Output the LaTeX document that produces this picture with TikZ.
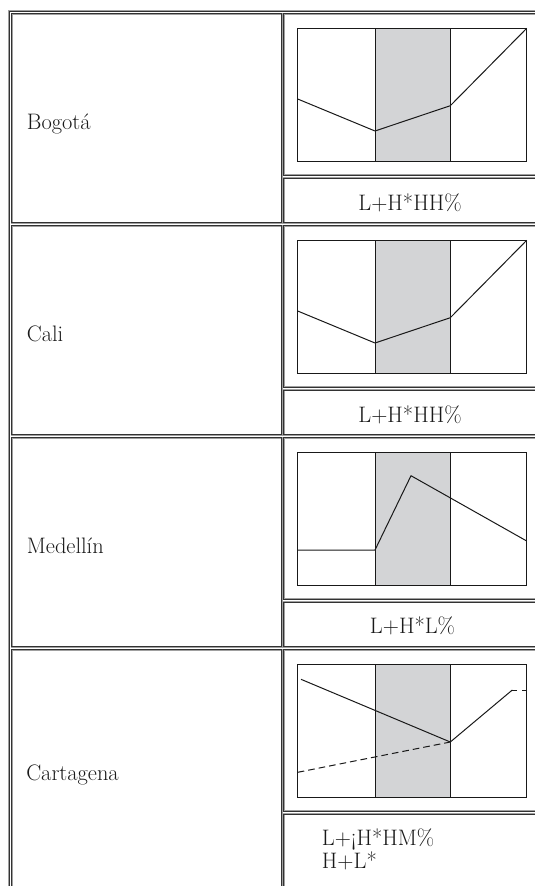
\documentclass[tikz,border=0pt]{standalone}
\usepackage{tikz}

\definecolor{bandgrey}{RGB}{211,212,214}
\definecolor{rulegrey}{RGB}{160,160,160}
\definecolor{ruledark}{RGB}{50,50,50}

\tikzset{
  cellbox/.style={draw=ruledark, line width=0.55pt, preaction={draw=rulegrey, line width=1.5pt}},
  plotbox/.style={draw=black!90, line width=0.75pt},
  contour/.style={draw=black!90, line width=0.75pt, line join=round},
  dashcontour/.style={contour, dash pattern=on 5pt off 3pt},
  citytext/.style={inner sep=0pt, anchor=base west, text=black!90, font=\fontsize{16.8}{19}\selectfont},
  tonetext/.style={inner sep=0pt, anchor=base, text=black!90, font=\fontsize{16.8}{19}\selectfont},
}

\begin{document}
\begin{tikzpicture}[x=0.75pt, y=-0.75pt]
            \useasboundingbox (0,0) rectangle (535,886);
            \clip (0,0) rectangle (535,886);
            % table frame and cells
            \draw[cellbox] (9.3,11.3) rectangle (570,920);
            \draw[cellbox] (11.5,13.5) rectangle (281.5,222.8);
            \draw[cellbox] (11.5,225.5) rectangle (281.5,434.8);
            \draw[cellbox] (11.5,437.5) rectangle (281.5,646.8);
            \draw[cellbox] (11.5,649.5) rectangle (281.5,910);
            \draw[cellbox] (283.5,13.5) rectangle (560,175.2);
            \draw[cellbox] (283.5,178.3) rectangle (560,222.8);
            \draw[cellbox] (283.5,225.5) rectangle (560,387.2);
            \draw[cellbox] (283.5,390.3) rectangle (560,434.8);
            \draw[cellbox] (283.5,437.5) rectangle (560,599.2);
            \draw[cellbox] (283.5,602.3) rectangle (560,646.8);
            \draw[cellbox] (283.5,649.5) rectangle (560,811.2);
            \draw[cellbox] (283.5,814.3) rectangle (560,910);
            % Bogota
            \fill[bandgrey] (375.0,28.3) rectangle (450.3,161.7);
            \draw[plotbox] (297.7,28.3) rectangle (526.7,161.7);
            \draw[plotbox] (375.0,28.3) -- (375.0,161.7);
            \draw[plotbox] (450.3,28.3) -- (450.3,161.7);
            \draw[contour] (297.7,99.0) -- (375.0,131.0) -- (450.3,105.7) -- (526.7,28.3);
            % Cali
            \fill[bandgrey] (375.0,240.3) rectangle (450.3,373.7);
            \draw[plotbox] (297.7,240.3) rectangle (526.7,373.7);
            \draw[plotbox] (375.0,240.3) -- (375.0,373.7);
            \draw[plotbox] (450.3,240.3) -- (450.3,373.7);
            \draw[contour] (297.7,311.0) -- (375.0,343.0) -- (450.3,317.7) -- (526.7,240.3);
            % Medellin
            \fill[bandgrey] (375.0,452.5) rectangle (450.3,585.7);
            \draw[plotbox] (297.7,452.5) rectangle (526.7,585.7);
            \draw[plotbox] (375.0,452.5) -- (375.0,585.7);
            \draw[plotbox] (450.3,452.5) -- (450.3,585.7);
            \draw[contour] (297.7,550.0) -- (375.0,550.0) -- (411.0,475.7) -- (526.7,541.0);
            % Cartagena
            \fill[bandgrey] (375.0,664.3) rectangle (450.3,797.7);
            \draw[plotbox] (297.7,664.3) rectangle (526.7,797.7);
            \draw[plotbox] (375.0,664.3) -- (375.0,797.7);
            \draw[plotbox] (450.3,664.3) -- (450.3,797.7);
            \draw[contour] (301.0,679.3) -- (450.3,742.0) -- (512.3,690.0);
            \draw[contour, dash pattern=on 3.75pt off 3.75pt] (512.3,690.0) -- (526.7,690.0);
            \draw[dashcontour] (297.7,772.3) -- (450.3,742.0);
            % texts
            \node[citytext] (bogota) at (26.6,129.0) {Bogotá};
            \node[citytext] (cali) at (26.6,341.0) {Cali};
            \node[citytext] (medellin) at (26.6,553.0) {Medellín};
            \node[citytext] (cartagena) at (26.0,780.0) {Cartagena};
            \node[tonetext] (toneA) at (410.0,210.0) {L+H*HH\%};
            \node[tonetext] (toneB) at (410.0,422.0) {L+H*HH\%};
            \node[tonetext] (toneC) at (412.5,633.0) {L+H*L\%};
            \node[tonetext, anchor=base west] (toneD) at (321.7,845.0) {L+¡H*HM\%};
            \node[tonetext, anchor=base west] (toneE) at (321.7,868.3) {H+L*};
        \end{tikzpicture}
\end{document}
